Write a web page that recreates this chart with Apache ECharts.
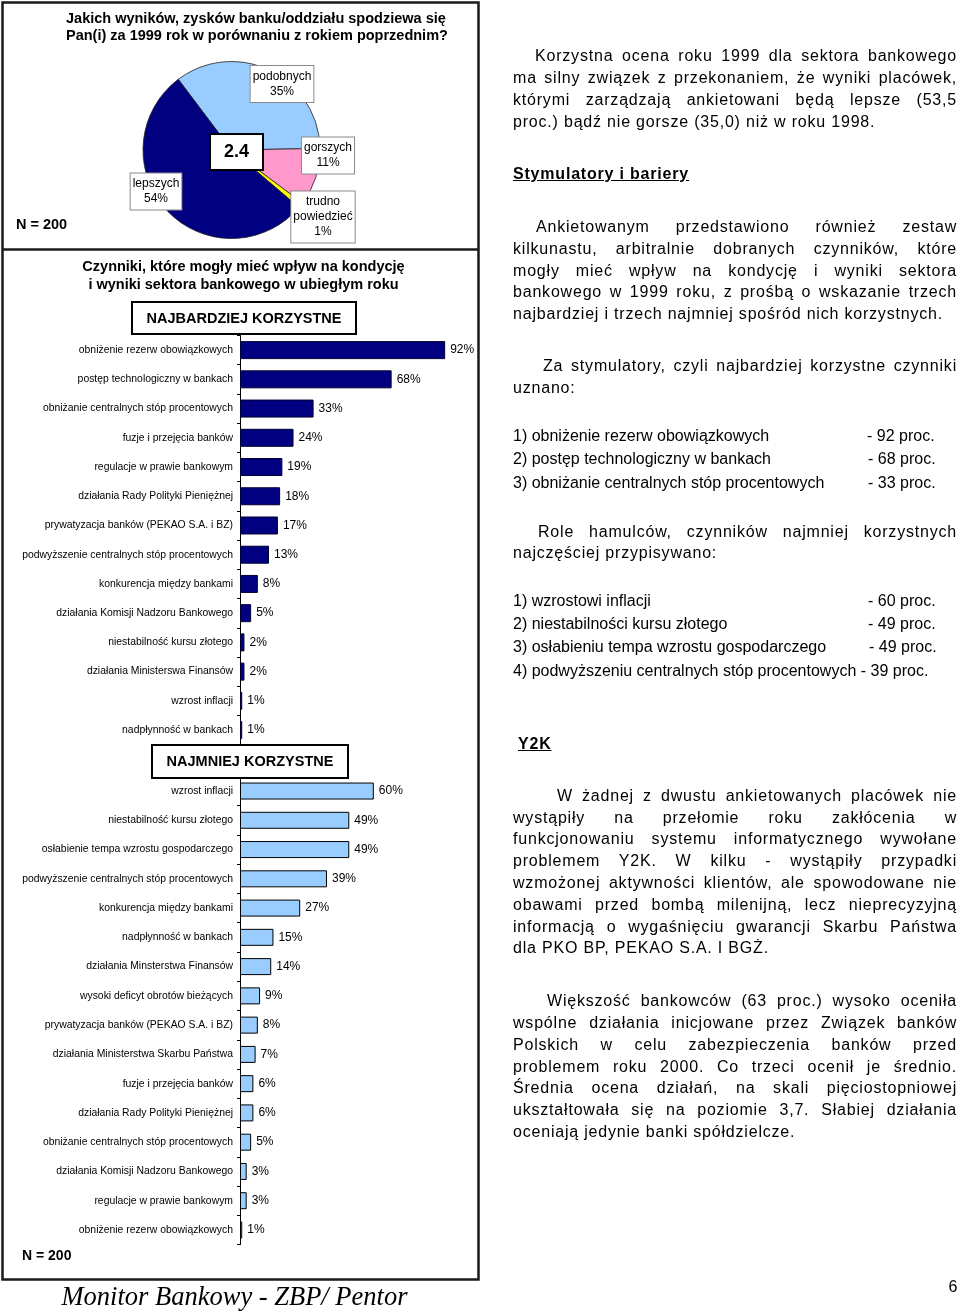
<!DOCTYPE html>
<html><head><meta charset="utf-8">
<script src="https://cdn.jsdelivr.net/npm/echarts@6/dist/echarts.min.js"></script>
<style>
html,body{margin:0;padding:0;background:#fff;}
#page{position:relative;width:960px;height:1313px;overflow:hidden;}
#chart{position:absolute;left:0;top:0;width:960px;height:1313px;}
.ln{position:absolute;font-family:"Liberation Sans",Arial,sans-serif;font-size:16px;line-height:22px;height:22px;color:#000;white-space:nowrap;}
.j{text-align:justify;text-align-last:justify;white-space:normal;}
.sp{letter-spacing:0.8px;}
.h{font-weight:bold;text-decoration:underline;}
</style></head>
<body>
<div id="page"><div id="chart"></div><div id="txt"></div></div>
<script>
// ---------------- DATA ----------------
const pieCategories = ['podobnych', 'gorszych', 'trudno\npowiedzieć', 'lepszych'];
const pieValues = [35.0, 10.5, 1.0, 53.5];
const pieColors = ['#99CCFF', '#FF99CC', '#FFFF00', '#000080'];
const pieMean = '2.4';

const topCategories = [
  'obniżenie rezerw obowiązkowych',
  'postęp technologiczny w bankach',
  'obniżanie centralnych stóp procentowych',
  'fuzje i przejęcia banków',
  'regulacje w prawie bankowym',
  'działania Rady Polityki Pieniężnej',
  'prywatyzacja banków (PEKAO S.A. i BZ)',
  'podwyższenie centralnych stóp procentowych',
  'konkurencja między bankami',
  'działania Komisji Nadzoru Bankowego',
  'niestabilność kursu złotego',
  'działania Ministerswa Finansów',
  'wzrost inflacji',
  'nadpłynność w bankach'
];
const topValues = [92, 68, 33, 24, 19, 18, 17, 13, 8, 5, 2, 2, 1, 1];

const bottomCategories = [
  'wzrost inflacji',
  'niestabilność kursu złotego',
  'osłabienie tempa wzrostu gospodarczego',
  'podwyższenie centralnych stóp procentowych',
  'konkurencja między bankami',
  'nadpłynność w bankach',
  'działania Minsterstwa Finansów',
  'wysoki deficyt obrotów bieżących',
  'prywatyzacja banków (PEKAO S.A. i BZ)',
  'działania Ministerstwa Skarbu Państwa',
  'fuzje i przejęcia banków',
  'działania Rady Polityki Pieniężnej',
  'obniżanie centralnych stóp procentowych',
  'działania Komisji Nadzoru Bankowego',
  'regulacje w prawie bankowym',
  'obniżenie rezerw obowiązkowych'
];
const bottomValues = [60, 49, 49, 39, 27, 15, 14, 9, 8, 7, 6, 6, 5, 3, 3, 1];

// ---------------- LAYOUT ----------------
const FONT = '"Liberation Sans", Arial, sans-serif';
const pieLabelAnchor = [[282, 84], [328, 155.5], [323, 217], [156, 191.5]];

const chart = echarts.init(document.getElementById('chart'), null, {renderer: 'canvas'});

function yAxisCfg(gi, cats) {
  return {
    gridIndex: gi, type: 'category', data: cats, inverse: true,
    axisLine: {show: true, lineStyle: {color: '#000', width: 1}},
    axisTick: {show: true, length: 3, lineStyle: {color: '#000', width: 1}},
    axisLabel: {interval: 0, fontSize: 10.4, color: '#000', margin: 7, fontFamily: FONT},
    splitLine: {show: false}
  };
}
function barCfg(gi, vals, color, border, bw) {
  return {
    type: 'bar', xAxisIndex: gi, yAxisIndex: gi, data: vals, barWidth: bw,
    itemStyle: {color: color, borderColor: border, borderWidth: 1},
    label: {show: true, position: 'right', distance: 5, formatter: '{c}%',
            fontSize: 12, color: '#000', fontFamily: FONT},
    emphasis: {disabled: true}, silent: true
  };
}

const option = {
  animation: false,
  backgroundColor: '#fff',
  grid: [
    {left: 240, top: 335.5, width: 223, height: 409.2},
    {left: 240, top: 776.4, width: 223, height: 468.2}
  ],
  xAxis: [
    {gridIndex: 0, type: 'value', min: 0, max: 100, show: false},
    {gridIndex: 1, type: 'value', min: 0, max: 100, show: false}
  ],
  yAxis: [yAxisCfg(0, topCategories), yAxisCfg(1, bottomCategories)],
  series: [
    {
      type: 'pie', center: [231.5, 150], radius: 88.5, startAngle: 127, clockwise: true,
      silent: true, emphasis: {disabled: true},
      itemStyle: {borderColor: '#222', borderWidth: 0.8},
      data: pieCategories.map((c, i) => ({name: c, value: pieValues[i], itemStyle: {color: pieColors[i]}})),
      label: {
        show: true, position: 'inside', color: '#000', fontSize: 12, fontFamily: FONT,
        lineHeight: 15, align: 'center', backgroundColor: '#fff', borderColor: '#8a8a8a',
        borderWidth: 1, padding: [3, 2],
        formatter: p => p.name + '\n' + Math.round(p.value) + '%'
      },
      labelLine: {show: false},
      labelLayout: p => ({x: pieLabelAnchor[p.dataIndex][0], y: pieLabelAnchor[p.dataIndex][1],
                          align: 'center', verticalAlign: 'middle'})
    },
    barCfg(0, topValues, '#000080', '#000030', 18),
    barCfg(1, bottomValues, '#99CCFF', '#000', 17)
  ],
  graphic: [
    {type: 'rect', z: 100, silent: true, shape: {x: 2.5, y: 2.5, width: 476, height: 1277},
     style: {fill: 'none', stroke: '#1a1a1a', lineWidth: 2.5}},
    {type: 'line', z: 100, silent: true, shape: {x1: 2.5, y1: 249.5, x2: 478.5, y2: 249.5},
     style: {stroke: '#1a1a1a', lineWidth: 2.5}},
    {type: 'text', z: 100, silent: true, style: {
      text: 'Jakich wyników, zysków banku/oddziału spodziewa się\nPan(i) za 1999 rok w porównaniu z rokiem poprzednim?',
      x: 66, y: 10.8, font: 'bold 14.5px ' + FONT, lineHeight: 17, fill: '#000', textVerticalAlign: 'top'}},
    {type: 'text', z: 100, silent: true, style: {text: 'N = 200', x: 16, y: 225,
      font: 'bold 14.5px ' + FONT, fill: '#000', textVerticalAlign: 'middle'}},
    {type: 'rect', z: 100, silent: true, shape: {x: 210, y: 134, width: 53, height: 36},
     style: {fill: '#fff', stroke: '#000', lineWidth: 2}},
    {type: 'text', z: 101, silent: true, style: {text: pieMean, x: 236.5, y: 152.5,
      font: 'bold 18px ' + FONT, fill: '#000', textAlign: 'center', textVerticalAlign: 'middle'}},
    {type: 'text', z: 100, silent: true, style: {
      text: 'Czynniki, które mogły mieć wpływ na kondycję\ni wyniki sektora bankowego w ubiegłym roku',
      x: 243.5, y: 258, font: 'bold 14.5px ' + FONT, lineHeight: 18, fill: '#000',
      textAlign: 'center', textVerticalAlign: 'top'}},
    {type: 'rect', z: 100, silent: true, shape: {x: 132, y: 302, width: 224, height: 32},
     style: {fill: '#fff', stroke: '#000', lineWidth: 2}},
    {type: 'text', z: 101, silent: true, style: {text: 'NAJBARDZIEJ KORZYSTNE', x: 244, y: 318.5,
      font: 'bold 14.5px ' + FONT, fill: '#000', textAlign: 'center', textVerticalAlign: 'middle'}},
    {type: 'rect', z: 100, silent: true, shape: {x: 152, y: 745, width: 196, height: 33},
     style: {fill: '#fff', stroke: '#000', lineWidth: 2}},
    {type: 'text', z: 101, silent: true, style: {text: 'NAJMNIEJ KORZYSTNE', x: 250, y: 761.5,
      font: 'bold 14.5px ' + FONT, fill: '#000', textAlign: 'center', textVerticalAlign: 'middle'}},
    {type: 'text', z: 100, silent: true, style: {text: 'N = 200', x: 22, y: 1256,
      font: 'bold 14px ' + FONT, fill: '#000', textVerticalAlign: 'middle'}},
    {type: 'text', z: 100, silent: true, style: {text: 'Monitor Bankowy - ZBP/ Pentor', x: 234.5, y: 1298,
      font: 'italic 26.5px "Liberation Serif", "Times New Roman", serif', fill: '#000',
      textAlign: 'center', textVerticalAlign: 'middle'}},
    {type: 'text', z: 100, silent: true, style: {text: '6', x: 953, y: 1288,
      font: '16px ' + FONT, fill: '#000', textAlign: 'center', textVerticalAlign: 'middle'}}
  ]
};
chart.setOption(option);

// ---------------- RIGHT COLUMN TEXT ----------------
const R = 957;
const lines = [
  // [x, yCenter, text, cls]
  [535, 56, 'Korzystna ocena roku 1999 dla sektora bankowego', 'j sp'],
  [513, 78, 'ma silny związek z przekonaniem, że wyniki placówek,', 'j sp'],
  [513, 100, 'którymi zarządzają ankietowani będą lepsze (53,5', 'j sp'],
  [513, 122, 'proc.) bądź nie gorsze (35,0) niż w roku 1998.', 'sp'],
  [513, 174, 'Stymulatory i bariery', 'h sp'],
  [536, 227, 'Ankietowanym przedstawiono również zestaw', 'j sp'],
  [513, 248.5, 'kilkunastu, arbitralnie dobranych czynników, które', 'j sp'],
  [513, 270.5, 'mogły mieć wpływ na kondycję i wyniki sektora', 'j sp'],
  [513, 292, 'bankowego w 1999 roku, z prośbą o wskazanie trzech', 'j sp'],
  [513, 314, 'najbardziej i trzech najmniej spośród nich korzystnych.', 'sp'],
  [543, 366, 'Za stymulatory, czyli najbardziej korzystne czynniki', 'j sp'],
  [513, 388, 'uznano:', 'sp'],
  [513, 436, '1) obniżenie rezerw obowiązkowych', ''],
  [867, 436, '- 92 proc.', ''],
  [513, 459.3, '2) postęp technologiczny w bankach', ''],
  [868, 459.3, '- 68 proc.', ''],
  [513, 482.7, '3) obniżanie centralnych stóp procentowych', ''],
  [868, 482.7, '- 33 proc.', ''],
  [538, 531.7, 'Role hamulców, czynników najmniej korzystnych', 'j sp'],
  [513, 553.3, 'najczęściej przypisywano:', 'sp'],
  [513, 601, '1) wzrostowi inflacji', ''],
  [868, 601, '- 60 proc.', ''],
  [513, 624.3, '2) niestabilności kursu złotego', ''],
  [868, 624.3, '- 49 proc.', ''],
  [513, 647.3, '3) osłabieniu tempa wzrostu gospodarczego', ''],
  [869, 647.3, '- 49 proc.', ''],
  [513, 671, '4) podwyższeniu centralnych stóp procentowych - 39 proc.', ''],
  [518, 744, 'Y2K', 'h sp'],
  [557, 796, 'W żadnej z dwustu ankietowanych placówek nie', 'j sp'],
  [513, 817.5, 'wystąpiły na przełomie roku zakłócenia w', 'j sp'],
  [513, 839, 'funkcjonowaniu systemu informatycznego wywołane', 'j sp'],
  [513, 861, 'problemem Y2K. W kilku - wystąpiły przypadki', 'j sp'],
  [513, 883, 'wzmożonej aktywności klientów, ale spowodowane nie', 'j sp'],
  [513, 904.5, 'obawami przed bombą milenijną, lecz nieprecyzyjną', 'j sp'],
  [513, 927, 'informacją o wygaśnięciu gwarancji Skarbu Państwa', 'j sp'],
  [513, 948, 'dla PKO BP, PEKAO S.A. I BGŻ.', 'sp'],
  [547, 1001, 'Większość bankowców (63 proc.) wysoko oceniła', 'j sp'],
  [513, 1023, 'wspólne działania inicjowane przez Związek banków', 'j sp'],
  [513, 1044.5, 'Polskich w celu zabezpieczenia banków przed', 'j sp'],
  [513, 1066.5, 'problemem roku 2000. Co trzeci ocenił je średnio.', 'j sp'],
  [513, 1088, 'Średnia ocena działań, na skali pięciostopniowej', 'j sp'],
  [513, 1110, 'ukształtowała się na poziomie 3,7. Słabiej działania', 'j sp'],
  [513, 1132, 'oceniają jedynie banki spółdzielcze.', 'sp']
];
const box = document.getElementById('txt');
lines.forEach(([x, y, t, cls]) => {
  const d = document.createElement('div');
  d.className = 'ln ' + cls;
  d.style.left = x + 'px';
  d.style.top = (y - 11) + 'px';
  if (cls.indexOf('j') >= 0) d.style.width = (R - x) + 'px';
  d.textContent = t;
  box.appendChild(d);
});
</script>
</body></html>
